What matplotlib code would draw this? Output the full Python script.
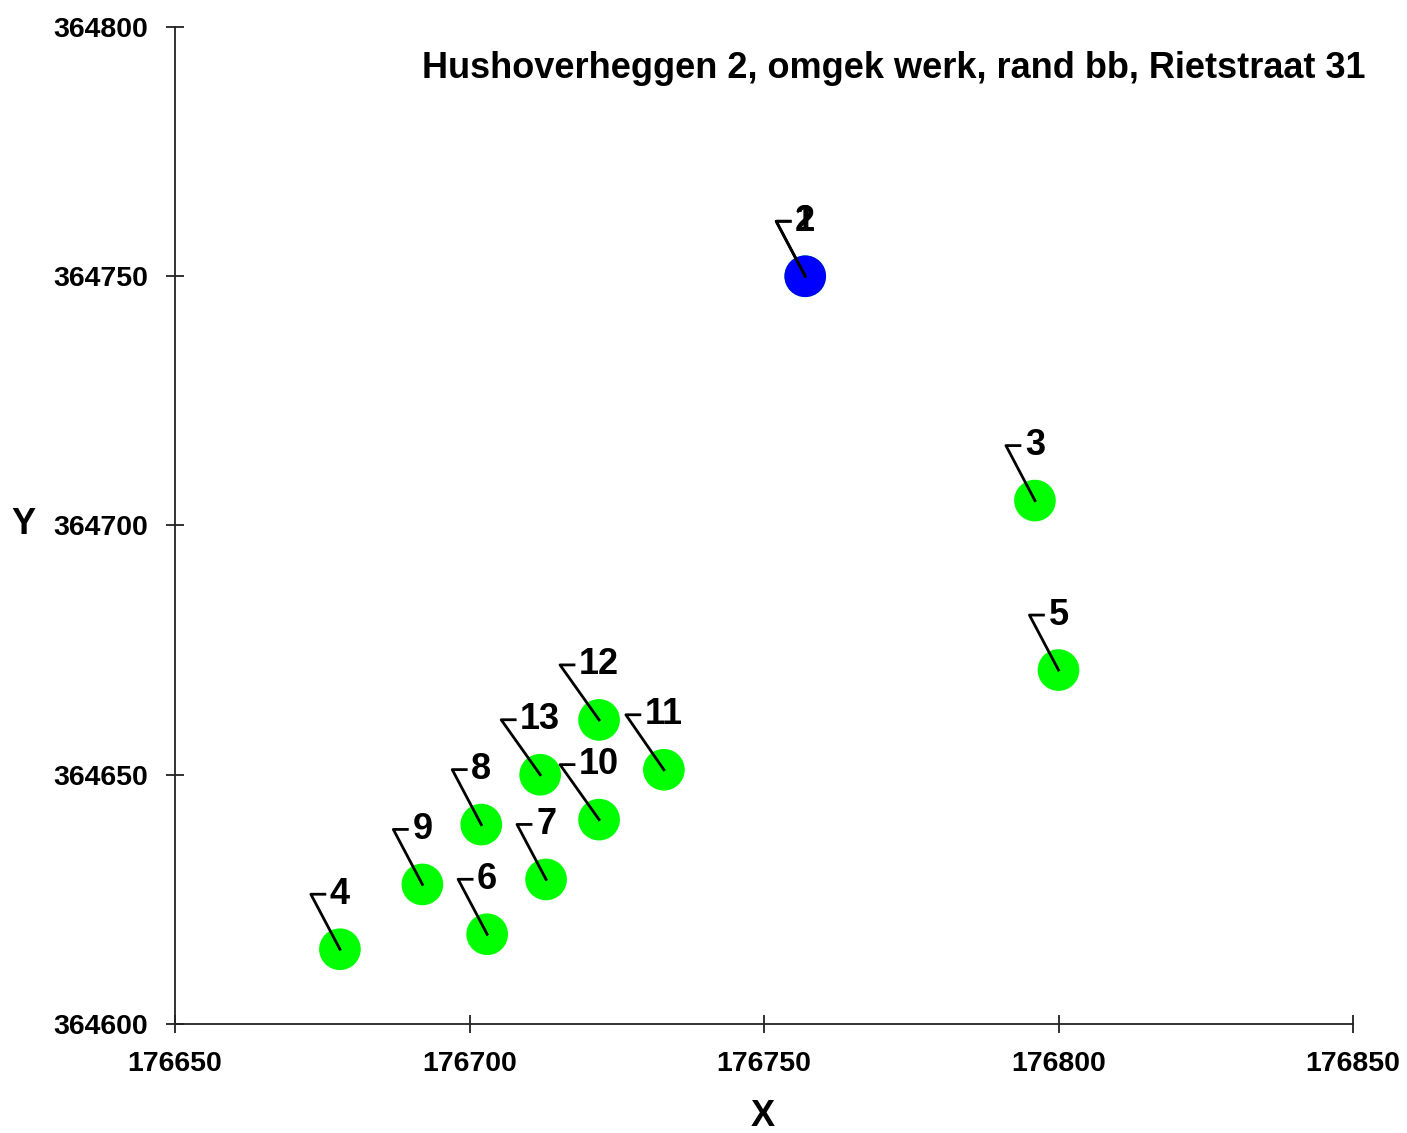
import matplotlib.pyplot as plt
from matplotlib.lines import Line2D
from matplotlib.transforms import IdentityTransform

plt.rcParams['font.family'] = ['Liberation Sans', 'DejaVu Sans']
plt.rcParams['font.weight'] = 'bold'

# Point data (RD coordinates)
labels = ["1", "2", "3", "4", "5", "6", "7", "8", "9", "10", "11", "12", "13"]
x_vals = [176757, 176757, 176796, 176678, 176800, 176703, 176713, 176702, 176692, 176722, 176733, 176722, 176712]
y_vals = [364750, 364750, 364705, 364615, 364671, 364618, 364629, 364640, 364628, 364641, 364651, 364661, 364650]
colors = ["#00ff00", "#0000ff"] + ["#00ff00"] * 11

title = "Hushoverheggen 2, omgek werk, rand bb, Rietstraat 31"
x_ticks = [176650, 176700, 176750, 176800, 176850]
y_ticks = [364600, 364650, 364700, 364750, 364800]

fig = plt.figure(figsize=(14.07, 11.33), dpi=100)
ax = fig.add_axes([175 / 1407, 109 / 1133, 1178 / 1407, 997 / 1133])
ax.set_xlim(176650, 176850)
ax.set_ylim(364600, 364800)
ax.set_xticks(x_ticks)
ax.set_yticks(y_ticks)
ax.set_xticklabels([str(v) for v in x_ticks])
ax.set_yticklabels([str(v) for v in y_ticks])
for side in ["top", "right"]:
    ax.spines[side].set_visible(False)
for side in ["left", "bottom"]:
    ax.spines[side].set_linewidth(1.3)
    ax.spines[side].set_color("#222222")
ax.tick_params(direction="inout", length=13, width=1.3, color="#222222", labelsize=20.5)
ax.tick_params(axis="y", pad=13)
ax.tick_params(axis="x", pad=13)

ax.scatter(x_vals, y_vals, s=900, c=colors, edgecolors="none", zorder=3)

# labels centred above each point, leader line to the left of the label
fig.canvas.draw()
renderer = fig.canvas.get_renderer()
for lab, x, y in zip(labels, x_vals, y_vals):
    px, py = ax.transData.transform((x, y))
    ty = py + 55
    t = fig.text(px, ty, lab, transform=IdentityTransform(), fontsize=26,
                 fontweight="bold", ha="center", va="center", zorder=5)
    left = t.get_window_extent(renderer).x0
    cx = left - 19
    fig.add_artist(Line2D([px, cx, cx + 14], [py, ty, ty], color="black", lw=2,
                          transform=IdentityTransform(), zorder=4))

fig.text(1365 / 1407, 1 - 68 / 1133, title, ha="right", va="center",
         fontsize=26, fontweight="bold")
fig.text(763 / 1407, 1 - 1117 / 1133, "X", ha="center", va="center", fontsize=26, fontweight="bold")
fig.text(23 / 1407, 1 - 525 / 1133, "Y", ha="center", va="center", fontsize=26, fontweight="bold")

fig.savefig("out.png", dpi=100)
